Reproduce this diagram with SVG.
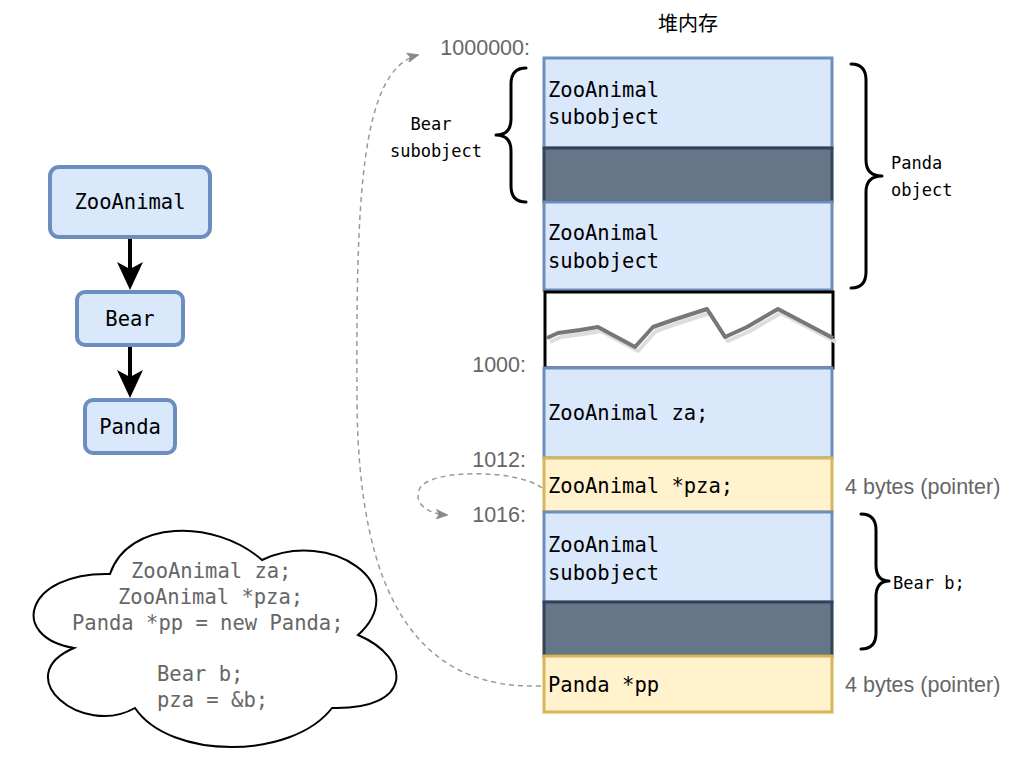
<svg xmlns="http://www.w3.org/2000/svg" width="1017" height="762" viewBox="0 0 1017 762">
<defs>
<style>
.mono{font-family:"DejaVu Sans Mono","Liberation Mono",monospace;font-size:20.5px;fill:#000}
.lbl{font-family:"DejaVu Sans Mono","Liberation Mono",monospace;font-size:17px;fill:#000}
.sans{font-family:"Liberation Sans",Arial,sans-serif;font-size:21.5px;fill:#666}
.cloudt{font-family:"DejaVu Sans Mono","Liberation Mono",monospace;font-size:20.5px;fill:#666}
.node{fill:#dae8fc;stroke:#6c8ebf;stroke-width:4}
.blue{fill:#dae8fc;stroke:#6c8ebf;stroke-width:3}
.dark{fill:#647687;stroke:#314354;stroke-width:3}
.yel{fill:#fff2cc;stroke:#d6b656;stroke-width:3}
.brace{fill:none;stroke:#000;stroke-width:3;stroke-linecap:round;stroke-linejoin:round}
.dash{fill:none;stroke:#999;stroke-width:1.5;stroke-dasharray:5 4}
</style>
<marker id="garrow" viewBox="0 0 12 10" refX="11" refY="5" markerWidth="12" markerHeight="10" markerUnits="userSpaceOnUse" orient="auto">
<path d="M0,0 L12,5 L0,10 L3,5 Z" fill="#888" stroke="#888" stroke-width="0.5"/>
</marker>
</defs>

<text x="688" y="22" text-anchor="middle" dominant-baseline="central" style="font-family:'Noto Sans CJK SC',sans-serif;font-size:20px;fill:#000">堆内存</text>

<g id="node-zooanimal">
<rect class="node" x="50" y="167" width="160" height="70" rx="9"/>
<text class="mono" x="130" y="202" text-anchor="middle" dominant-baseline="central">ZooAnimal</text>
</g>
<g id="node-bear">
<rect class="node" x="77" y="292" width="106" height="53" rx="8"/>
<text class="mono" x="130" y="319" text-anchor="middle" dominant-baseline="central">Bear</text>
</g>
<g id="node-panda">
<rect class="node" x="85" y="400" width="90" height="53" rx="8"/>
<text class="mono" x="130" y="427" text-anchor="middle" dominant-baseline="central">Panda</text>
</g>

<g id="cloud">
<path d="M110,574 C25,572 8,637 74,648 C8,676 82,738 135,708 C170,760 292,760 332,708 C414,710 412,658 358,635 C414,584 330,528 262,560 C214,518 128,520 110,574 Z" fill="#fff" stroke="#000" stroke-width="2"/>
<text class="cloudt" x="131" y="571" dominant-baseline="central">ZooAnimal za;</text>
<text class="cloudt" x="118" y="597" dominant-baseline="central">ZooAnimal *pza;</text>
<text class="cloudt" x="72" y="623" dominant-baseline="central">Panda *pp = new Panda;</text>
<text class="cloudt" x="157" y="674" dominant-baseline="central">Bear b;</text>
<text class="cloudt" x="157" y="700" dominant-baseline="central">pza = &amp;b;</text>
</g>

<g id="mem-panda-zoo">
<rect class="blue" x="544" y="58" width="288" height="90"/>
<text class="mono" x="548" y="90" dominant-baseline="central">ZooAnimal</text>
<text class="mono" x="548" y="117" dominant-baseline="central">subobject</text>
</g>
<g id="mem-panda-bear-part">
<rect class="dark" x="544" y="148" width="288" height="54"/>
</g>
<g id="mem-panda-zoo2">
<rect class="blue" x="544" y="202" width="288" height="88"/>
<text class="mono" x="548" y="233" dominant-baseline="central">ZooAnimal</text>
<text class="mono" x="548" y="261" dominant-baseline="central">subobject</text>
</g>
<g id="mem-break">
<rect x="545" y="292" width="288" height="76" fill="#fff" stroke="#000" stroke-width="3"/>
<polyline points="550,342 561,337 583,334 601,331 638,351 656,331 676,324 710,313 728,341 750,331 781,313 836,342" fill="none" stroke="#ddd" stroke-width="4" stroke-linejoin="round"/>
<polyline points="547,338 558,333 580,330 598,327 635,347 653,327 673,320 707,309 725,337 747,327 778,309 833,338" fill="none" stroke="#777" stroke-width="4" stroke-linejoin="round"/>
</g>
<g id="mem-za">
<rect class="blue" x="544" y="368" width="288" height="90"/>
<text class="mono" x="548" y="413" dominant-baseline="central">ZooAnimal za;</text>
</g>
<g id="mem-pza">
<rect class="yel" x="544" y="458" width="288" height="54"/>
<text class="mono" x="548" y="486" dominant-baseline="central">ZooAnimal *pza;</text>
</g>
<g id="mem-b-zoo">
<rect class="blue" x="544" y="512" width="288" height="90"/>
<text class="mono" x="548" y="545" dominant-baseline="central">ZooAnimal</text>
<text class="mono" x="548" y="573" dominant-baseline="central">subobject</text>
</g>
<g id="mem-b-bear">
<rect class="dark" x="544" y="602" width="288" height="54"/>
</g>
<g id="mem-pp">
<rect class="yel" x="544" y="656" width="288" height="56"/>
<text class="mono" x="548" y="685" dominant-baseline="central">Panda *pp</text>
</g>

<g id="labels">
<text class="sans" x="530" y="48" text-anchor="end" dominant-baseline="central">1000000:</text>
<text class="sans" x="526" y="365" text-anchor="end" dominant-baseline="central">1000:</text>
<text class="sans" x="526" y="460" text-anchor="end" dominant-baseline="central">1012:</text>
<text class="sans" x="526" y="515" text-anchor="end" dominant-baseline="central">1016:</text>
<text class="sans" x="845" y="487" dominant-baseline="central">4 bytes (pointer)</text>
<text class="sans" x="845" y="685" dominant-baseline="central">4 bytes (pointer)</text>
</g>

<g id="brace-bear-subobject">
<path class="brace" d="M526,68 Q511,68 511,84 L511,119 Q511,135 496,135 Q511,135 511,151 L511,186 Q511,202 526,202"/>
<text class="lbl" x="431" y="124" text-anchor="middle" dominant-baseline="central">Bear</text>
<text class="lbl" x="436" y="151" text-anchor="middle" dominant-baseline="central">subobject</text>
</g>
<g id="brace-panda-object">
<path class="brace" d="M851,64 Q866,64 866,80 L866,160 Q866,176 882,176 Q866,176 866,192 L866,272 Q866,288 851,288"/>
<text class="lbl" x="891" y="163" dominant-baseline="central">Panda</text>
<text class="lbl" x="891" y="190" dominant-baseline="central">object</text>
</g>
<g id="brace-bear-b">
<path class="brace" d="M861,514 Q876,514 876,530 L876,565 Q876,581 889,581 Q876,581 876,597 L876,633 Q876,649 861,649"/>
<text class="lbl" x="893" y="583" dominant-baseline="central">Bear b;</text>
</g>

<g id="connectors">
<line x1="130" y1="239" x2="130" y2="270" stroke="#000" stroke-width="4"/>
<path d="M117,262 L130,290 L143,262 L130,269 Z" fill="#000"/>
<line x1="130" y1="347" x2="130" y2="378" stroke="#000" stroke-width="4"/>
<path d="M117,370 L130,398 L143,370 L130,377 Z" fill="#000"/>
<path class="dash" d="M541,686 C420,690 358,600 357,400 C356,200 360,70 418,55" marker-end="url(#garrow)"/>
<path class="dash" d="M542,488 C520,470 432,468 420,488 C412,505 430,514 447,515" marker-end="url(#garrow)"/>
</g>
</svg>
